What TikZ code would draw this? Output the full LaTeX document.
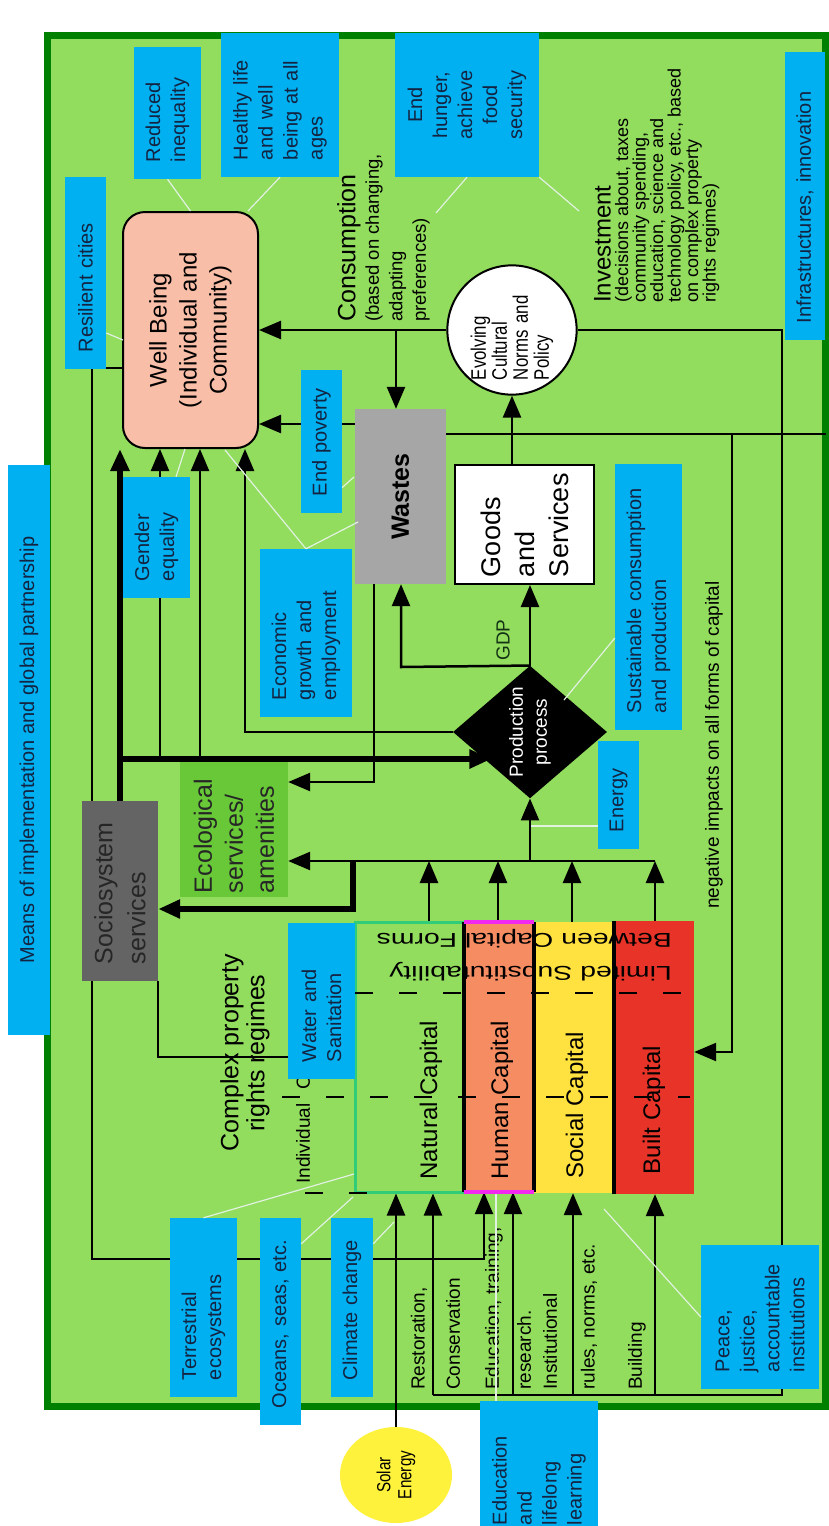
\documentclass[tikz,border=0pt]{standalone}
\usepackage{fontspec}
\setmainfont{Liberation Sans}
\newfontfamily\narrowfont[FakeStretch=0.8]{Liberation Sans}
\newfontfamily\widefont[FakeStretch=1.42]{Liberation Sans}
\usepackage{tikz}
\usetikzlibrary{arrows.meta,shapes.geometric}
\pgfdeclarelayer{bg}
\pgfdeclarelayer{back}
\pgfsetlayers{bg,back,main}
\newcommand{\fsz}[2]{\fontsize{#1}{#2}\selectfont}
\definecolor{leaf}{RGB}{146,220,94}
\definecolor{framegreen}{RGB}{0,128,0}
\definecolor{goalblue}{RGB}{0,176,240}
\definecolor{goaltext}{RGB}{20,35,65}
\definecolor{wellpink}{RGB}{248,190,168}
\definecolor{sociogray}{RGB}{100,100,100}
\definecolor{ecogreen}{RGB}{104,200,56}
\definecolor{wastegray}{RGB}{166,166,166}
\definecolor{natborder}{RGB}{48,204,120}
\definecolor{humanfill}{RGB}{246,140,98}
\definecolor{humanedge}{RGB}{240,40,240}
\definecolor{socialfill}{RGB}{255,226,64}
\definecolor{builtfill}{RGB}{232,52,40}
\definecolor{solaryellow}{RGB}{255,242,60}
\definecolor{gdpgreen}{RGB}{20,50,20}
\definecolor{hintcolor}{RGB}{225,242,225}
\tikzset{
	txt/.style={rotate=90, inner sep=0pt},
	dims/.style 2 args={minimum width=#1, minimum height=#2},
	goal/.style={txt, fill=goalblue, text=goaltext, align=left, font=\fsz{20}{25}},
	note/.style={txt, anchor=west, font=\fsz{19}{19}},
	caplabel/.style={txt, font=\fsz{24}{24}},
	wire/.style={line width=2.5pt},
	heavy/.style={line width=6pt},
	hint/.style={hintcolor, line width=1.2pt},
	dashline/.style={line width=2.5pt, dash pattern=on 18pt off 26pt},
}

\begin{document}
\begin{tikzpicture}[x=1pt, y=-1pt, >={Triangle[length=22pt, width=18pt]}]
	\useasboundingbox (0,0) rectangle (828,1526);
	\begin{pgfonlayer}{bg}
		\draw [ framegreen, line width=7pt, fill=leaf ] (47,35) rectangle (825,1406);
	\end{pgfonlayer}

	\node (1) [ txt, draw, fill=wellpink, line width=2pt, rounded corners=22pt,
		dims={236pt}{135pt}, align=center, font=\fsz{24}{30} ] at (190.5,330)
		{Well Being\\(Individual and\\Community)};
	\node (2) [ txt, fill=sociogray, text=black!85, dims={180pt}{76pt},
		text width=146pt, align=left, font=\fsz{25}{33} ] at (120,891)
		{Sociosystem\\services};
	\node (3) [ txt, fill=ecogreen, text=black!85, dims={135pt}{108pt},
		text width=127pt, align=left, font=\fsz{25}{31} ] at (234,829.5)
		{Ecological\\services/\\amenities};
	\node (4) [ txt, fill=wastegray, dims={175pt}{91pt},
		font=\fsz{25}{30}\bfseries ] at (400.5,496.5)
		{Wastes};
	\node (5) [ txt, draw, fill=white, line width=2pt, dims={119pt}{139pt},
		text width=105pt, align=left, font=\fsz{27}{34} ] at (524.5,524.5)
		{Goods\\and\\Services};
	\node (6) [ txt, circle, draw, fill=white, line width=2pt, minimum size=128pt,
		text width=100pt, align=left, font=\narrowfont\fsz{21}{21} ] at (512,330)
		{Evolving\\Cultural\\Norms and\\Policy};
	\node (7) [ txt, diamond, fill=black, text=white, dims={130pt}{154pt},
		align=center, font=\fsz{19}{24} ] at (530,732)
		{Production\\process};
	\node (8) [ txt, draw=natborder, line width=3pt, dims={270pt}{109pt} ] at (409.5,1057) {};
	\node (9) [ txt, fill=humanfill, dims={270pt}{70pt} ] at (499,1057) {};
	\node (10) [ txt, fill=socialfill, dims={271pt}{80pt} ] at (574,1057.5) {};
	\node (11) [ txt, fill=builtfill, dims={273pt}{80pt} ] at (654,1057.5) {};
	\node (12) [ txt, ellipse, fill=solaryellow, dims={96pt}{112pt},
		align=center, font=\narrowfont\fsz{19}{21} ] at (396,1475)
		{Solar\\Energy};

	\node (13) [ txt, anchor=north west, align=left, font=\fsz{18.5}{23.5} ] at (337,322)
		{{\fsz{25}{25}Consumption}\\(based on changing,\\adapting\\preferences)};
	\node (14) [ txt, anchor=north west, align=left, font=\fsz{18}{17.5} ] at (594,303)
		{{\fsz{24}{24}Investment}\\(decisions about, taxes\\community spending,\\education, science and\\technology policy, etc., based\\on complex property\\rights regimes)};
	\node (15) [ txt, align=center, font=\fsz{25}{26} ] at (245,1053)
		{Complex property\\rights regimes};
	\node (16) [ note ] at (303,1184) {Individual\hspace{14pt}Common};
	\node (17) [ inner sep=0pt, rotate=180, anchor=west, align=left,
		font=\widefont\fsz{20}{33} ] at (672,955.5)
		{Limited Substitutability\\Between Capital Forms};
	\node (18) [ txt, text=gdpgreen, font=\fsz{19}{19} ] at (503,640) {GDP};
	\node (19) [ note ] at (714,909) {negative impacts on all forms of capital};
	\node (20) [ note ] at (419,1390) {Restoration,};
	\node (21) [ note ] at (453,1390) {Conservation};
	\node (22) [ note ] at (494,1390) {Education, training,};
	\node (23) [ note ] at (524,1390) {research.};
	\node (24) [ note ] at (550,1390) {Institutional};
	\node (25) [ note ] at (589,1390) {rules, norms, etc.};
	\node (26) [ note ] at (637,1390) {Building};
	\node (27) [ caplabel ] at (431,1100) {Natural Capital};
	\node (28) [ caplabel ] at (502,1100) {Human Capital};
	\node (29) [ caplabel ] at (577,1105) {Social Capital};
	\node (30) [ caplabel ] at (654,1110) {Built Capital};

	\draw [ line width=4.5pt ] (9.north west) -- (9.north east);
	\draw [ line width=4.5pt ] (9.south west) -- (9.south east);
	\draw [ humanedge, line width=4.5pt ] (9.north east) -- (9.south east);
	\draw [ humanedge, line width=4.5pt ] (9.north west) -- (9.south west);
	\draw [ line width=4.5pt ] (11.north west) -- (11.north east);
	\draw [ dashline ] (355,993) -- (690,993);
	\draw [ dashline ] (282,1097) -- (690,1097);
	\draw [ dashline ] (305,1193) -- (390,1193);

	\coordinate (a1) at (92,368);
	\coordinate (a2) at (484,1259);
	\coordinate (s1) at (120,759);
	\coordinate (q1) at (160,759);
	\coordinate (q2) at (200,759);
	\coordinate (t1) at (353,909);
	\coordinate (u0) at (353,861);
	\coordinate (u1) at (429,861);
	\coordinate (u2) at (498,861);
	\coordinate (u3) at (572,861);
	\coordinate (u4) at (655,861);
	\coordinate (u5) at (530,861);
	\coordinate (w1) at (374,782);
	\coordinate (g1) at (401,667);
	\coordinate (k1) at (396,330);
	\coordinate (k2) at (355,424);
	\coordinate (k3) at (826,434);
	\coordinate (k4) at (732,434);
	\coordinate (k5) at (732,1052);
	\coordinate (p1) at (245,732);
	\coordinate (i1) at (782,330);
	\coordinate (i2) at (782,1395);
	\coordinate (b1) at (433,1395);
	\coordinate (b2) at (513,1395);
	\coordinate (b3) at (573,1395);
	\coordinate (b4) at (655,1395);
	\coordinate (e1) at (531,826);

	\begin{pgfonlayer}{back}
		\draw [ wire, -> ] (1.north |- a1) -- (a1) -- (a1 |- a2) -- (a2) -- (a2 |- 9.west);
		\draw [ wire ] (2.south west) |- (8.north);
		\draw [ heavy, -> ] (2.east) -- (2.east |- 1.west);
		\draw [ heavy, -> ] (s1) -- (s1 -| 7.north west);
		\draw [ heavy, -> ] (u0) -- (t1) -- (t1 -| 2.south);
		\draw [ wire, -> ] (q1) -- (q1 |- 1.west);
		\draw [ wire, -> ] (q2) -- (q2 |- 1.west);
		\draw [ wire, -> ] (7.north) -- (p1) -- (p1 |- 1.west);
		\draw [ wire, -> ] (u4) -- (u4 -| 3.south);
		\draw [ wire, -> ] (u1 |- 8.east) -- (u1);
		\draw [ wire, -> ] (u2 |- 9.east) -- (u2);
		\draw [ wire, -> ] (u3 |- 10.east) -- (u3);
		\draw [ wire, -> ] (u4 |- 11.east) -- (u4);
		\draw [ wire, -> ] (u5) -- (7.west);
		\draw [ wire, -> ] (4.west -| w1) -- (w1) -- (w1 -| 3.south);
		\draw [ wire, -> ] (7.east) -- (7.east |- 5.west);
		\draw [ wire, -> ] (7.east) -- (g1) -- (g1 |- 4.west);
		\draw [ wire, -> ] (5.east -| 6) -- (6);
		\draw [ wire, -> ] (6) -- (1);
		\draw [ wire, -> ] (k1) -- (k1 |- 4.east);
		\draw [ wire, -> ] (k2) -- (k2 -| 1.south);
		\draw [ wire ] (4.south |- k3) -- (k3);
		\draw [ wire, -> ] (k4) -- (k5) -- (k5 -| 11.south);
		\draw [ wire ] (6) -- (i1) -- (i2) -- (b1);
		\draw [ wire, -> ] (b1) -- (b1 |- 8.west);
		\draw [ wire, -> ] (b2) -- (b2 |- 9.west);
		\draw [ wire, -> ] (b3) -- (b3 |- 10.west);
		\draw [ wire, -> ] (b4) -- (b4 |- 11.west);
		\draw [ wire, -> ] (12) -- (12 |- 8.west);
	\end{pgfonlayer}

	\node (31) [ goal, dims={570pt}{42pt}, align=center ] at (29,750)
		{Means of implementation and global partnership};
	\node (32) [ goal, dims={192pt}{41pt}, text width=158pt ] at (85.5,273)
		{Resilient cities};
	\node (33) [ goal, dims={132pt}{67pt}, text width=98pt ] at (167.5,113)
		{Reduced\\inequality};
	\node (34) [ goal, dims={144pt}{118pt}, text width=110pt ] at (280,105)
		{Healthy life\\and well\\being at all\\ages};
	\node (35) [ goal, dims={144pt}{144pt}, align=center ] at (467,105)
		{End\\hunger,\\achieve\\food\\security};
	\node (36) [ goal, dims={288pt}{40pt}, text width=254pt ] at (805,196)
		{Infrastructures, innovation};
	\node (37) [ goal, dims={121pt}{67pt}, text width=87pt ] at (156.5,537.5)
		{Gender\\equality};
	\node (38) [ goal, dims={143pt}{41pt}, text width=109pt ] at (321.5,441.5)
		{End poverty};
	\node (39) [ goal, dims={168pt}{92pt}, text width=134pt ] at (306,633)
		{Economic\\growth and\\employment};
	\node (40) [ goal, dims={266pt}{67pt}, text width=232pt ] at (648.5,597)
		{Sustainable consumption\\and production};
	\node (41) [ goal, dims={108pt}{41pt}, text width=74pt ] at (618.5,795)
		{Energy};
	\node (42) [ goal, dims={156pt}{67pt}, text width=122pt ] at (321.5,1001)
		{Water and\\Sanitation};
	\node (43) [ goal, dims={179pt}{67pt}, text width=145pt ] at (203.5,1307.5)
		{Terrestrial\\ecosystems};
	\node (44) [ goal, dims={207pt}{41pt}, text width=173pt ] at (280.5,1321.5)
		{Oceans, seas, etc.};
	\node (45) [ goal, dims={179pt}{42pt}, text width=145pt ] at (352,1307.5)
		{Climate change};
	\node (46) [ goal, dims={141pt}{118pt}, text width=107pt ] at (539,1471.5)
		{Education\\and\\lifelong\\learning};
	\node (47) [ goal, dims={144pt}{118pt}, text width=110pt ] at (760,1317)
		{Peace,\\justice,\\accountable\\institutions};

	\coordinate (c0) at (123,340);
	\coordinate (c1) at (436,213);
	\coordinate (c2) at (579,211);
	\coordinate (c3) at (225,450);
	\coordinate (c4) at (358,522);
	\coordinate (c5) at (354,477);
	\coordinate (c6) at (564,700);
	\coordinate (c7) at (354,1174);
	\coordinate (c8) at (353,1197);
	\coordinate (c9) at (394,1222);
	\coordinate (c10) at (604,1209);
	\coordinate (c11) at (496,1194);
	\coordinate (c12) at (185,449);
	\draw [ hint ] ([yshift=-60pt]32.south) -- (c0);
	\draw [ hint ] (33.west) -- (1.east);
	\draw [ hint ] (34.west) -- ([xshift=-11pt]1.south east);
	\draw [ hint ] (35.west) -- (c1);
	\draw [ hint ] (35.south west) -- (c2);
	\draw [ hint ] (37) -- (c12);
	\draw [ hint ] (39.east) -- (c3);
	\draw [ hint ] (39.east) -- (c4);
	\draw [ hint ] ([yshift=-46pt]38.south) -- (c5);
	\draw [ hint ] (40) -- (c6);
	\draw [ hint ] (41.north |- e1) -- (e1);
	\draw [ hint ] (43.east) -- (c7);
	\draw [ hint ] ([yshift=-26pt]44.south east) -- (c8);
	\draw [ hint ] ([yshift=-26pt]45.south east) -- (c9);
	\draw [ hint ] (47.north) -- (c10);
	\draw [ hint ] (46.east -| c11) -- (c11);
\end{tikzpicture}
\end{document}
